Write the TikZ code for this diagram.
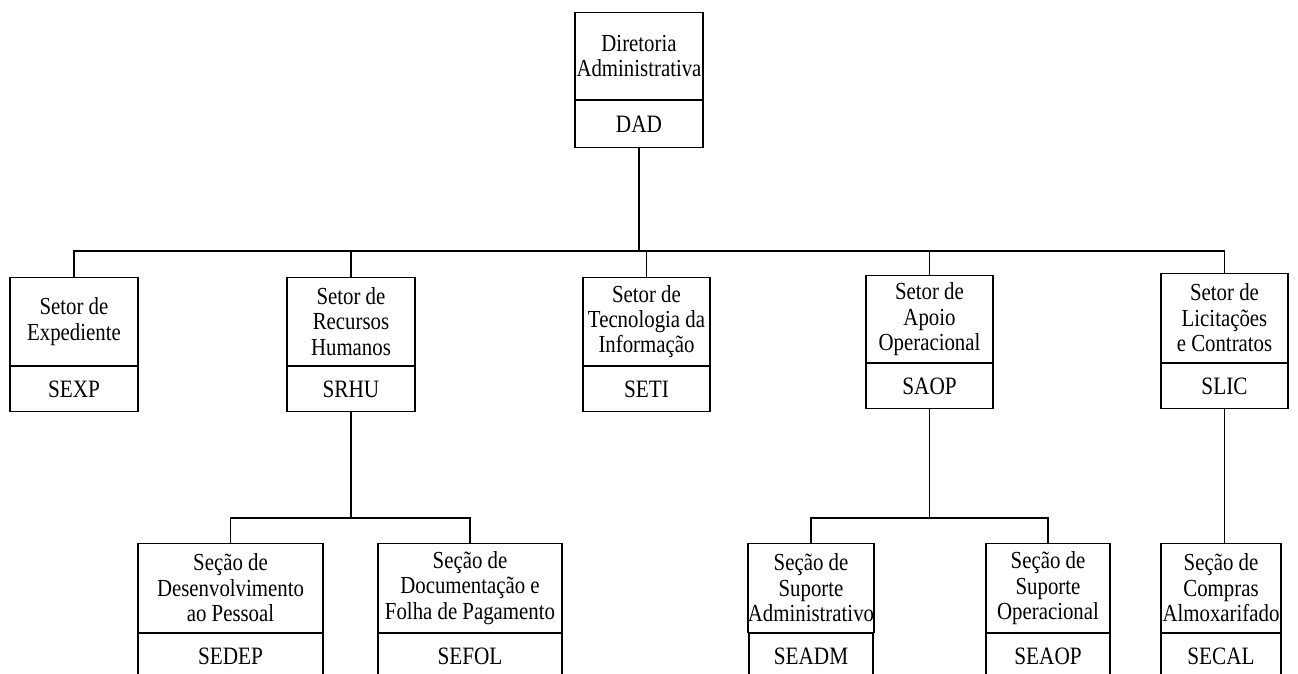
\documentclass[tikz,border=0pt]{standalone}
\usepackage{fontspec}
\setmainfont{Liberation Serif}
\newfontfamily\orgfont{Liberation Serif}[FakeStretch=0.85]
\tikzset{
	unitname/.style={draw, line width=1.2pt, anchor=north, align=center, inner sep=0pt,
		minimum width=#1, minimum height=88pt, font=\orgfont\fontsize{24.5}{25.5}\selectfont},
	unitcode/.style={draw, line width=1.2pt, anchor=north, inner sep=0pt,
		minimum width=#1, minimum height=45pt, font=\orgfont\fontsize{25}{26}\selectfont},
	link/.style={line width=1.4pt}
}
\begin{document}
\begin{tikzpicture}[x=1pt,y=-1pt]
	\useasboundingbox (0,0) rectangle (1298,673);
	\clip (0,0) rectangle (1298,673);
	% diretoria
	\node[unitname=128pt, minimum height=87pt] (dad) at (639,12) {Diretoria\\Administrativa};
	\node[unitcode=128pt, minimum height=47pt] (dadcode) at (dad.south) {DAD};
	% setores
	\node[unitname=128pt] (sexp) at (74,277) {Setor de\\Expediente};
	\node[unitcode=128pt] (sexpcode) at (sexp.south) {SEXP};
	\node[unitname=128pt] (srhu) at (351,277) {Setor de\\Recursos\\Humanos};
	\node[unitcode=128pt] (srhucode) at (srhu.south) {SRHU};
	\node[unitname=127pt] (seti) at (646.5,277) {Setor de\\Tecnologia da\\Informação};
	\node[unitcode=127pt] (seticode) at (seti.south) {SETI};
	\node[unitname=127pt, minimum height=87pt] (saop) at (929.5,275) {Setor de\\Apoio\\Operacional};
	\node[unitcode=127pt] (saopcode) at (saop.south) {SAOP};
	\node[unitname=127pt, minimum height=89pt] (slic) at (1224.5,273) {Setor de\\Licitações\\e Contratos};
	\node[unitcode=127pt] (sliccode) at (slic.south) {SLIC};
	% secoes
	\node[unitname=185pt, minimum height=89pt] (sedep) at (230.5,543) {Seção de\\Desenvolvimento\\ao Pessoal};
	\node[unitcode=185pt] (sedepcode) at (sedep.south) {SEDEP};
	\node[unitname=184pt, minimum height=89pt] (sefol) at (470,543) {Seção de\\Documentação e\\Folha de Pagamento};
	\node[unitcode=184pt] (sefolcode) at (sefol.south) {SEFOL};
	\node[unitname=124pt, minimum height=89pt] (seadm) at (811,543) {Seção de\\Suporte\\Administrativo};
	\node[unitcode=124pt] (seadmcode) at (seadm.south) {SEADM};
	\node[unitname=124pt, minimum height=89pt] (seaop) at (1048,543) {Seção de\\Suporte\\Operacional};
	\node[unitcode=124pt] (seaopcode) at (seaop.south) {SEAOP};
	\node[unitname=120pt, minimum height=89pt] (secal) at (1221,543) {Seção de\\Compras\\Almoxarifado};
	\node[unitcode=120pt] (secalcode) at (secal.south) {SECAL};
	% ligacoes
	\coordinate (bus) at (639,251);
	\coordinate (busrh) at (351,518);
	\coordinate (busap) at (929.5,518);
	\draw[link] (dadcode.south) -- (dadcode.south |- bus);
	\draw[link] (sexp.north) |- (bus) -| (slic.north);
	\draw[link] (srhu.north) -- (srhu.north |- bus);
	\draw[link] (seti.north) -- (seti.north |- bus);
	\draw[link] (saop.north) -- (saop.north |- bus);
	\draw[link] (srhucode.south) -- (busrh);
	\draw[link] (sedep.north) |- (busrh) -| (sefol.north);
	\draw[link] (saopcode.south) -- (busap);
	\draw[link] (seadm.north) |- (busap) -| (seaop.north);
	\draw[link] (sliccode.south) -- (sliccode.south |- secal.north);
\end{tikzpicture}
\end{document}
